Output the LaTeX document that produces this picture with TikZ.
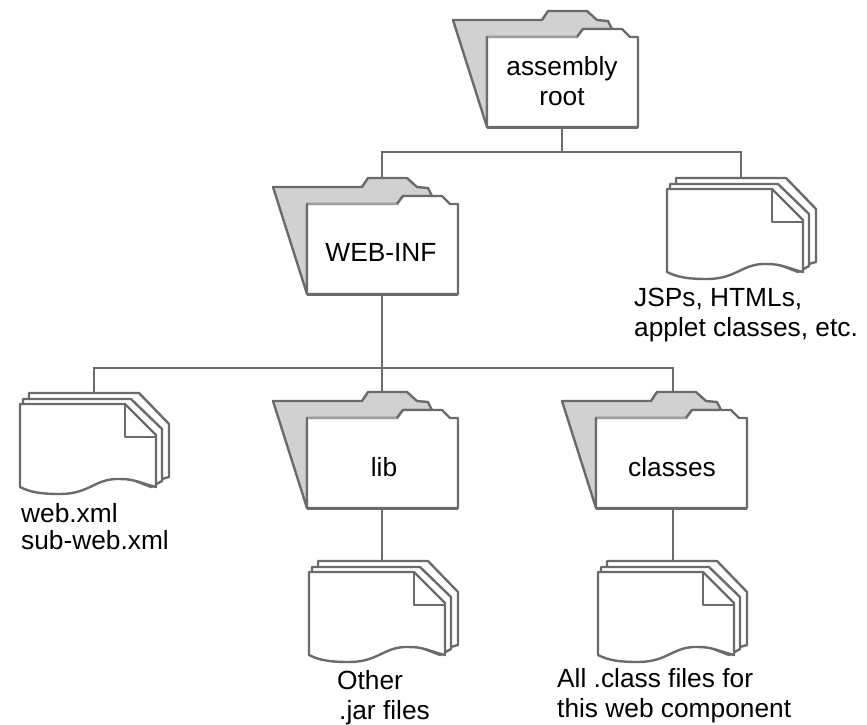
\documentclass[tikz,border=0pt]{standalone}
\usepackage{fontspec}
\setmainfont{Liberation Sans}
\definecolor{linegray}{gray}{0.42}
\definecolor{midgray}{gray}{0.62}
\definecolor{shadegray}{gray}{0.82}
\tikzset{lbl/.style = {font=\fontsize{26.3}{30}\selectfont, align=center, inner sep=0}}
\tikzset{caption/.style = {lbl, align=left, anchor=north west}}
\tikzset{link/.style = {draw=linegray, line width=2.2pt}}
\tikzset{edge/.style = {draw=linegray, line width=2.4pt, line join=round}}
\tikzset{folder/.pic = {
    \draw [edge, fill=shadegray] (-34, -107) -- (55, -107) -- (61, -116) -- (100, -116) -- (110, -107)
      -- (121, -106) -- (125, -98) -- (96, -98) -- (90, -90) -- (0, -90) -- (0, 0) -- cycle;
    \draw [edge, fill=white] (0, 0) -- (151, 0) -- (151, -90) -- (143, -90) -- (135, -98) -- (96, -98) -- (90, -90) -- (0, -90) -- cycle;
    \draw [draw=midgray, line width=2.4pt] (1, -90) -- (90, -90);
    \draw [edge, line width=3pt] (0, 0) -- (151, 0);
    \coordinate (-top) at (75, -116);
    \coordinate (-bottom) at (75, 0);
  }}
\tikzset{pages/.pic = {
    \draw [edge, fill=white] (9, -94) -- (119, -94) -- (149, -63) -- (149, -10) -- (131, -5) -- (9, -50) -- cycle;
    \draw [edge, fill=white] (3, -88) -- (111, -88) -- (142, -58) -- (142, -6) -- (131, 0) -- (3, -50) -- cycle;
    \draw [edge, fill=white] (0, 0) -- (0, -83) -- (105, -83) -- (136, -52) -- (136, 0)
      .. controls (120, -4) and (115, -8) .. (100, -8)
      .. controls (75, -9) and (70, 7) .. (40, 7)
      .. controls (20, 7) and (10, 5) .. (0, 0) -- cycle;
    \draw [edge] (105, -83) -- (105, -50) -- (136, -50);
    \coordinate (-top) at (74, -94);
  }}

\begin{document}
\begin{tikzpicture}[x=1pt, y=-1pt]
  \useasboundingbox (0, 0) rectangle (867, 724);
  % folders
  \pic (root) at (487, 127) {folder};
  \pic (webinf) at (307, 294) {folder};
  \pic (lib) at (307, 508) {folder};
  \pic (classes) at (596, 508) {folder};
  % page stacks
  \pic (jsp) at (667, 272) {pages};
  \pic (webxml) at (20, 487) {pages};
  \pic (jars) at (309, 655) {pages};
  \pic (classfiles) at (598, 655) {pages};
  % labels
  \node [lbl] (roottext) at (562, 81) {assembly\\root};
  \node [lbl] (webinftext) at (381, 252) {WEB-INF};
  \node [lbl] (libtext) at (384, 467) {lib};
  \node [lbl] (classestext) at (672, 467) {classes};
  \node [caption] (jsptext) at (634, 288) {JSPs, HTMLs,\\applet classes, etc.};
  \node [caption] (webxmltext) at (21, 503) {web.xml\\[-3pt]sub-web.xml};
  \node [caption] (jarstext) at (337, 670) {Other\\\kern2pt.jar files};
  \node [caption] (classfilestext) at (557, 668) {All .class files for\\this web component};
  % connectors
  \coordinate (rootfork) at (562, 152);
  \coordinate (webinffork) at (382, 368);
  \draw [link] (root-bottom) -- (rootfork);
  \draw [link] (webinf-top) |- (rootfork);
  \draw [link] (jsp-top) |- (rootfork);
  \draw [link] (webinf-bottom) -- (webinffork);
  \draw [link] (webxml-top) |- (webinffork);
  \draw [link] (lib-top) -- (webinffork);
  \draw [link] ([xshift=2pt]classes-top) |- (webinffork);
  \draw [link] (lib-bottom) -- (lib-bottom |- jars-top);
  \draw [link] ([xshift=2pt]classes-bottom) -- ([xshift=2pt]classes-bottom |- classfiles-top);
\end{tikzpicture}
\end{document}
